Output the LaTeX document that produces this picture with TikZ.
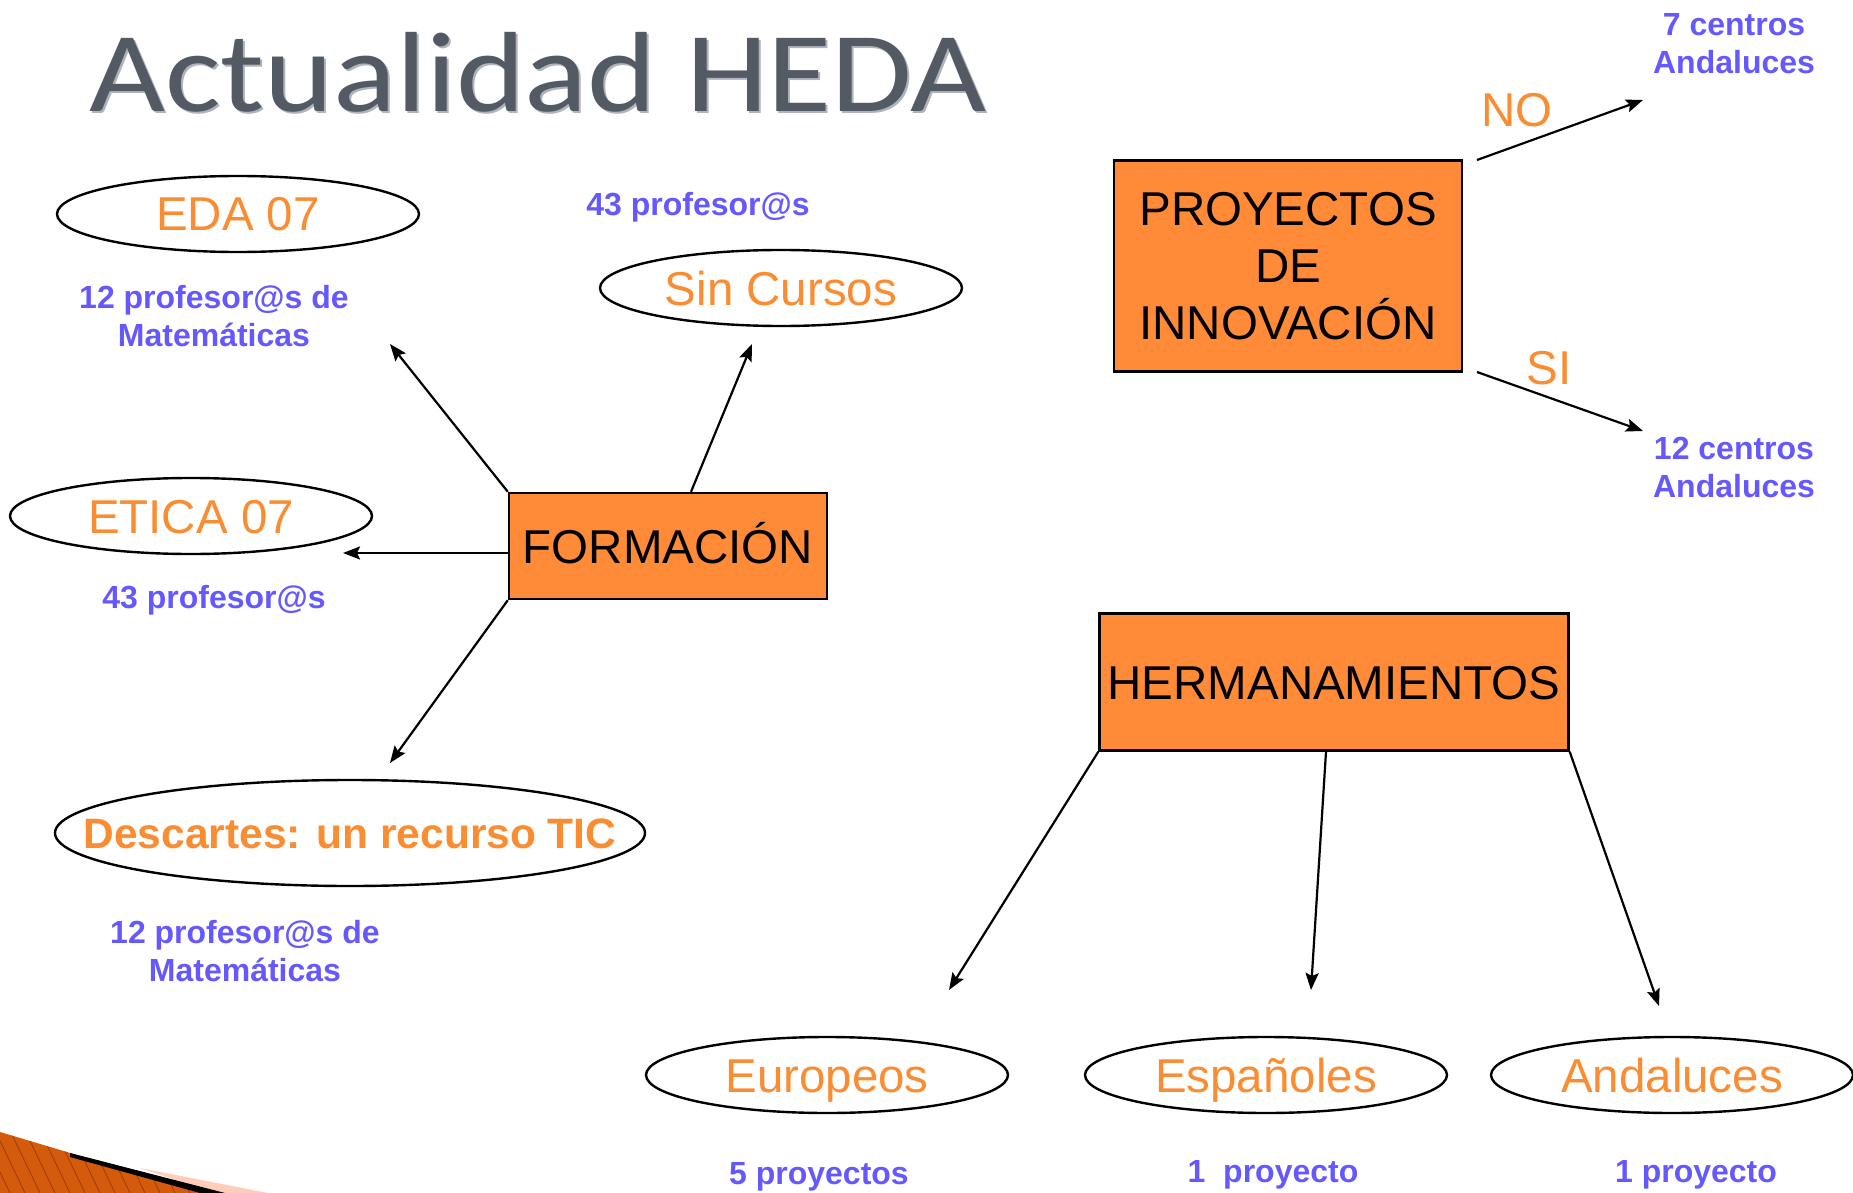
\documentclass[tikz,border=0pt]{standalone}
\usepackage{fontspec}
\setmainfont{Liberation Sans}
\newfontfamily\titlefont{Carlito}
\usetikzlibrary{shapes.geometric,arrows.meta}
\definecolor{boxor}{RGB}{255,138,56}
\definecolor{txtor}{RGB}{250,140,50}
\definecolor{blu}{RGB}{102,88,255}
\definecolor{ttl}{RGB}{84,90,100}
\definecolor{ttlsh}{RGB}{175,180,188}
\definecolor{wedge}{RGB}{212,90,12}
\definecolor{wedgedk}{RGB}{160,60,5}
\definecolor{peach}{RGB}{255,205,185}
\newcommand{\zw}[1]{\makebox[0pt]{#1}}
\begin{document}
\begin{tikzpicture}[x=1pt,y=-1pt,
  ell/.style={draw=black,line width=2.4pt,ellipse,minimum width=362pt,minimum height=76pt,inner sep=0pt,text=txtor,font=\fontsize{47.5}{57}\selectfont,text height=40pt,text depth=6pt},
  boxn/.style={draw=black,line width=2.4pt,fill=boxor,inner sep=0pt,font=\fontsize{47.5}{57}\selectfont,align=center},
  onel/.style={text height=40pt,text depth=6pt},
  lbl/.style={text=blu,font=\bfseries\fontsize{32}{38}\selectfont,align=center,inner sep=0pt},
  olbl/.style={text=txtor,font=\fontsize{47.5}{57}\selectfont,inner sep=0pt},
  arr/.style={line width=2.2pt,-{Stealth[length=17pt,width=13pt,inset=3pt]}}
]
\useasboundingbox (0,0) rectangle (1853,1193);
\fill[white] (0,0) rectangle (1853,1193);

% title
\node[anchor=base west,inner sep=0pt,text=ttlsh,font=\titlefont\fontsize{114}{120}\selectfont] (titlesh) at (91,114) {\scalebox{1.15}[1]{Actualidad HEDA}};
\node[anchor=base west,inner sep=0pt,text=ttl,font=\titlefont\fontsize{114}{120}\selectfont] (title) at (89,112) {\scalebox{1.15}[1]{Actualidad HEDA}};

% bottom-left wedge
\fill[peach] (140,1168) -- (268,1193) -- (215,1193) -- cycle;
\begin{scope}
  \clip (0,1132) -- (77,1155) -- (222,1193) -- (0,1193) -- cycle;
  \fill[wedge] (0,1120) rectangle (260,1193);
  \foreach \i in {-40,-25,...,260} {
    \draw[wedgedk,line width=0.8pt] (\i,1120) -- (\i+35,1193);
  }
\end{scope}
\fill[black] (70,1153) -- (225,1193) -- (200,1193) -- (70,1157) -- cycle;

% boxes
\node[boxn,onel,minimum width=318pt,minimum height=106pt] (form) at (668,546) {FORMACIÓN};
\node[boxn,minimum width=348pt,minimum height=211pt] (proy) at (1288,266) {PROYECTOS\\DE\\INNOVACIÓN};
\node[boxn,onel,minimum width=469pt,minimum height=137pt] (herm) at (1334,682) {HERMANAMIENTOS};

% ellipses
\node[ell] (eda) at (238,214) {\zw{EDA 07}};
\node[ell] (sin) at (781,288) {\zw{Sin Cursos}};
\node[ell] (etica) at (191,516) {\zw{ETICA 07}};
\node[ell,minimum width=590pt,minimum height=106pt,font=\bfseries\fontsize{42.5}{50}\selectfont,text height=36pt,text depth=6pt] (desc) at (350,833) {\zw{Descartes: un recurso TIC}};
\node[ell] (euro) at (827,1075) {\zw{Europeos}};
\node[ell] (esp) at (1266,1075) {\zw{Españoles}};
\node[ell] (anda) at (1672,1075) {\zw{Andaluces}};

% blue labels
\node[lbl] (l43a) at (698,207) {43 profesor@s};
\node[lbl] (l12a) at (214,316) {12 profesor@s de\\Matemáticas};
\node[lbl] (l43b) at (214,600) {43 profesor@s};
\node[lbl] (l12b) at (245,951) {12 profesor@s de\\Matemáticas};
\node[lbl] (l7c) at (1734,44) {7 centros\\Andaluces};
\node[lbl] (l12c) at (1734,467) {12 centros\\Andaluces};
\node[lbl] (l5p) at (819,1177) {5 proyectos};
\node[lbl] (l1pa) at (1273,1175) {1\ \ proyecto};
\node[lbl] (l1pb) at (1696,1175) {1 proyecto};

% orange labels
\node[olbl] (no) at (1517,110) {NO};
\node[olbl] (si) at (1549,368) {SI};

% arrow targets
\coordinate (t1) at (390,344);
\coordinate (t2) at (752,344);
\coordinate (t3) at (343,553);
\coordinate (t4) at (390,763);
\coordinate (t5) at (1643,100);
\coordinate (t6) at (1643,431);
\coordinate (t7) at (949,990);
\coordinate (t8) at (1311,990);
\coordinate (t9) at (1659,1006);
\coordinate (s5) at (1477,160);
\coordinate (s6) at (1477,372);

% arrows
\draw[arr] (form.north west) -- (t1);
\draw[arr] ([xshift=23pt]form.north) -- (t2);
\draw[arr] ([yshift=-7pt]form.west) -- (t3);
\draw[arr] (form.south west) -- (t4);
\draw[arr] (s5) -- (t5);
\draw[arr] (s6) -- (t6);
\draw[arr] (herm.south west) -- (t7);
\draw[arr] ([xshift=-8pt]herm.south) -- (t8);
\draw[arr] (herm.south east) -- (t9);
\end{tikzpicture}
\end{document}
